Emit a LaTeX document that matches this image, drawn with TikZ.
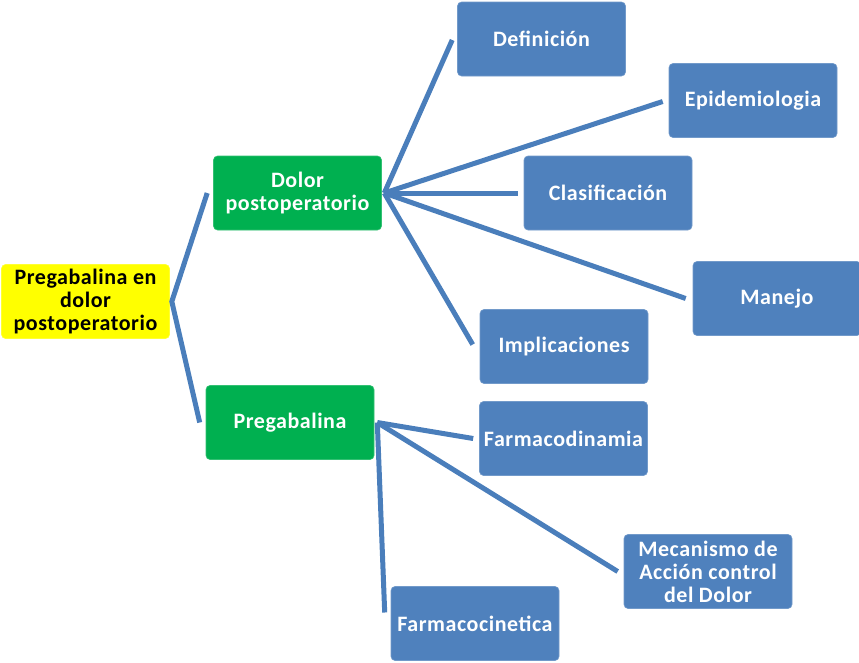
\documentclass[tikz,border=0pt]{standalone}
\usepackage{fontspec}
\setmainfont{Carlito}[LetterSpace=2.5]
\definecolor{boxblue}{HTML}{4F81BD}
\definecolor{linkblue}{HTML}{4A7EBB}
\definecolor{topgreen}{HTML}{00B050}
\definecolor{rootyellow}{HTML}{FFFF00}
\tikzset{
  card/.style={rounded corners=4pt, minimum width=168pt, minimum height=74pt,
    inner sep=0pt, align=center, font=\bfseries\fontsize{22}{23}\selectfont},
  leafbox/.style={card, fill=boxblue, draw=boxblue!80!white, line width=0.6pt, text=white},
  midbox/.style={card, fill=topgreen, draw=topgreen!80!white, line width=0.6pt, text=white},
  rootbox/.style={card, fill=rootyellow, draw=rootyellow!80!white, line width=0.6pt, text=black},
  link/.style={draw=linkblue, line width=5pt, line cap=butt, line join=miter}
}
\begin{document}
\begin{tikzpicture}[x=1pt, y=-1pt]
  \useasboundingbox (0,0) rectangle (859,662);
  \clip (0,0) rectangle (859,662);

  % boxes
  \node[rootbox] (root) at (85.5,301.5) {Pregabalina en\\dolor\\postoperatorio};
  \node[midbox] (dolor) at (297.5,193) {Dolor\\postoperatorio};
  \node[midbox] (preg) at (290,422.5) {Pregabalina};

  \node[leafbox] (def) at (541.5,39) {Definición};
  \node[leafbox] (epi) at (753,100.5) {Epidemiologia};
  \node[leafbox] (clas) at (608,193) {Clasificación};
  \node[leafbox] (man) at (777,298.5) {Manejo};
  \node[leafbox] (impl) at (564,346.5) {Implicaciones};

  \node[leafbox] (fdin) at (563.5,438.5) {Farmacodinamia};
  \node[leafbox] (meca) at (708,571.5) {Mecanismo de\\Acción control\\del Dolor};
  \node[leafbox] (fcin) at (475,623.5) {Farmacocinetica};

  % junction points beside the parent boxes
  \coordinate (rootHub) at ([xshift=2pt]root.east);
  \coordinate (dolorHub) at ([xshift=2.5pt]dolor.east);
  \coordinate (pregHub) at ([xshift=3pt]preg.east);

  % root branches
  \draw[link] ([xshift=-6pt]dolor.west) -- (rootHub) -- ([xshift=-6pt]preg.west);

  % branches of "Dolor postoperatorio"
  \draw[link] (dolorHub) -- ([xshift=-5pt,yshift=-1pt]def.west);
  \draw[link] (dolorHub) -- ([xshift=-6pt,yshift=-1pt]epi.west);
  \draw[link] (dolorHub) -- ([xshift=-6pt]clas.west);
  \draw[link] (dolorHub) -- ([xshift=-7pt]man.west);
  \draw[link] (dolorHub) -- ([xshift=-7pt,yshift=2pt]impl.west);

  % branches of "Pregabalina"
  \draw[link] (pregHub) -- ([xshift=-6pt]fdin.west);
  \draw[link] (pregHub) -- ([xshift=-6pt]meca.west);
  \draw[link] (pregHub) -- ([xshift=-6pt,yshift=11pt]fcin.west);
\end{tikzpicture}
\end{document}
